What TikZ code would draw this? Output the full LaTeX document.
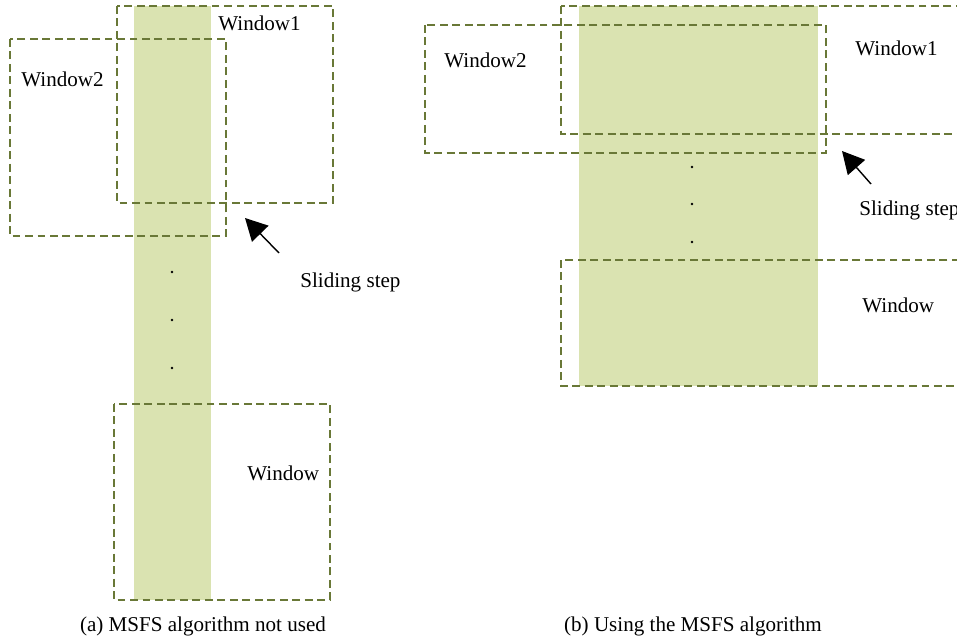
\documentclass[tikz,border=0pt]{standalone}
\usepackage{fontspec}
\setmainfont{Liberation Serif}
\usetikzlibrary{arrows.meta}
\definecolor{strip}{RGB}{218,227,177}
\definecolor{olive}{RGB}{105,120,55}
\tikzset{
  win/.style={draw=olive, line width=0.7pt, dash pattern=on 4.5pt off 2.6pt},
  lbl/.style={inner sep=0pt, anchor=base west, font=\fontsize{12}{14}\selectfont},
  captext/.style={inner sep=0pt, anchor=base, font=\fontsize{12}{14}\selectfont},
  arr/.style={line width=0.8pt, -{Triangle[length=12.5pt, width=13pt]}},
  dotc/.style={fill=black, circle, inner sep=0pt, minimum size=1.6pt}
}
\begin{document}
\begin{tikzpicture}[x=0.02cm, y=-0.02cm]
\clip (0,0) rectangle (957,642);
% ---------- panel (a)
\fill[strip] (134,6) rectangle (211,600);
\draw[win] (117,6) rectangle (333,203);
\draw[win] (10,39) rectangle (226,236);
\draw[win] (114,404) rectangle (330,600);
\node[lbl] (aw1) at (218,31) {Window1};
\node[lbl] (aw2) at (21,87) {Window2};
\node[lbl] (aw) at (247,480) {Window};
\node[dotc] (ad1) at (172,272) {};
\node[dotc] (ad2) at (172,320) {};
\node[dotc] (ad3) at (172,368) {};
\coordinate (atail) at (279,253);
\coordinate (atip) at (245,218);
\draw[arr] (atail) -- (atip);
\node[lbl] (ass) at (300,287) {Sliding step};
\node[captext] (acap) at (203,631) {(a) MSFS algorithm not used};
% ---------- panel (b)
\fill[strip] (579,6) rectangle (818,386);
\draw[win] (561,6) rectangle (965,134);
\draw[win] (425,25) rectangle (826,153);
\draw[win] (561,260) rectangle (965,386);
\node[lbl] (bw1) at (855,56) {Window1};
\node[lbl] (bw2) at (444,68) {Window2};
\node[lbl] (bw) at (862,312) {Window};
\node[dotc] (bd1) at (692,167) {};
\node[dotc] (bd2) at (692,204) {};
\node[dotc] (bd3) at (692,242) {};
\coordinate (btail) at (871,184);
\coordinate (btip) at (842,151);
\draw[arr] (btail) -- (btip);
\node[lbl] (bss) at (859,215) {Sliding step};
\node[captext] (bcap) at (693,631) {(b) Using the MSFS algorithm};
\end{tikzpicture}
\end{document}
